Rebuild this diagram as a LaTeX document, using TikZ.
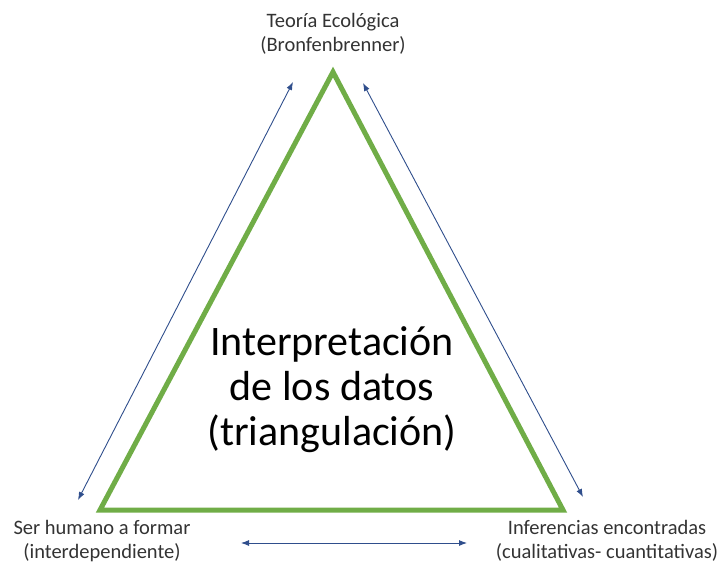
\documentclass[tikz,border=0pt]{standalone}
\usepackage{fontspec}
\usetikzlibrary{arrows.meta}
\setmainfont{Carlito}
\definecolor{leafgreen}{HTML}{70AD47}
\definecolor{arrowblue}{HTML}{2F4E8C}
\begin{document}
\begin{tikzpicture}[x=1pt,y=-1pt]
\useasboundingbox (0,0) rectangle (721,565);
\tikzset{label text/.style={align=center, font=\fontsize{20.5}{24}\selectfont, text=black!80},
  link/.style={{Latex[length=8pt,width=6pt]}-{Latex[length=8pt,width=6pt]}, arrowblue, line width=0.9pt}}
% triangle corners
\coordinate (apex) at (333,72);
\coordinate (left) at (100,510);
\coordinate (right) at (563,510);
\draw[leafgreen, line width=5pt, line join=miter] (apex) -- (left) -- (right) -- cycle;

\node[align=center, font=\fontsize{42}{45}\selectfont] (centre) at (332,390) {Interpretación\\de los datos\\(triangulación)};
\node[label text] (theory) at (333,34) {Teoría Ecológica\\(Bronfenbrenner)};
\node[label text] (human) at (102,541) {Ser humano a formar\\(interdependiente)};
\node[label text] (inference) at (607,541) {Inferencias encontradas\\(cualitativas- cuantitativas)};

% arrow ends
\coordinate (lefttop) at (293,82);
\coordinate (leftbottom) at (78,500);
\coordinate (righttop) at (363,83);
\coordinate (rightbottom) at (583,497);
\coordinate (baseleft) at (241,543);
\coordinate (baseright) at (467,543);

\draw[link] (lefttop) -- (leftbottom);
\draw[link] (righttop) -- (rightbottom);
\draw[link] (baseleft) -- (baseright);
\end{tikzpicture}
\end{document}
